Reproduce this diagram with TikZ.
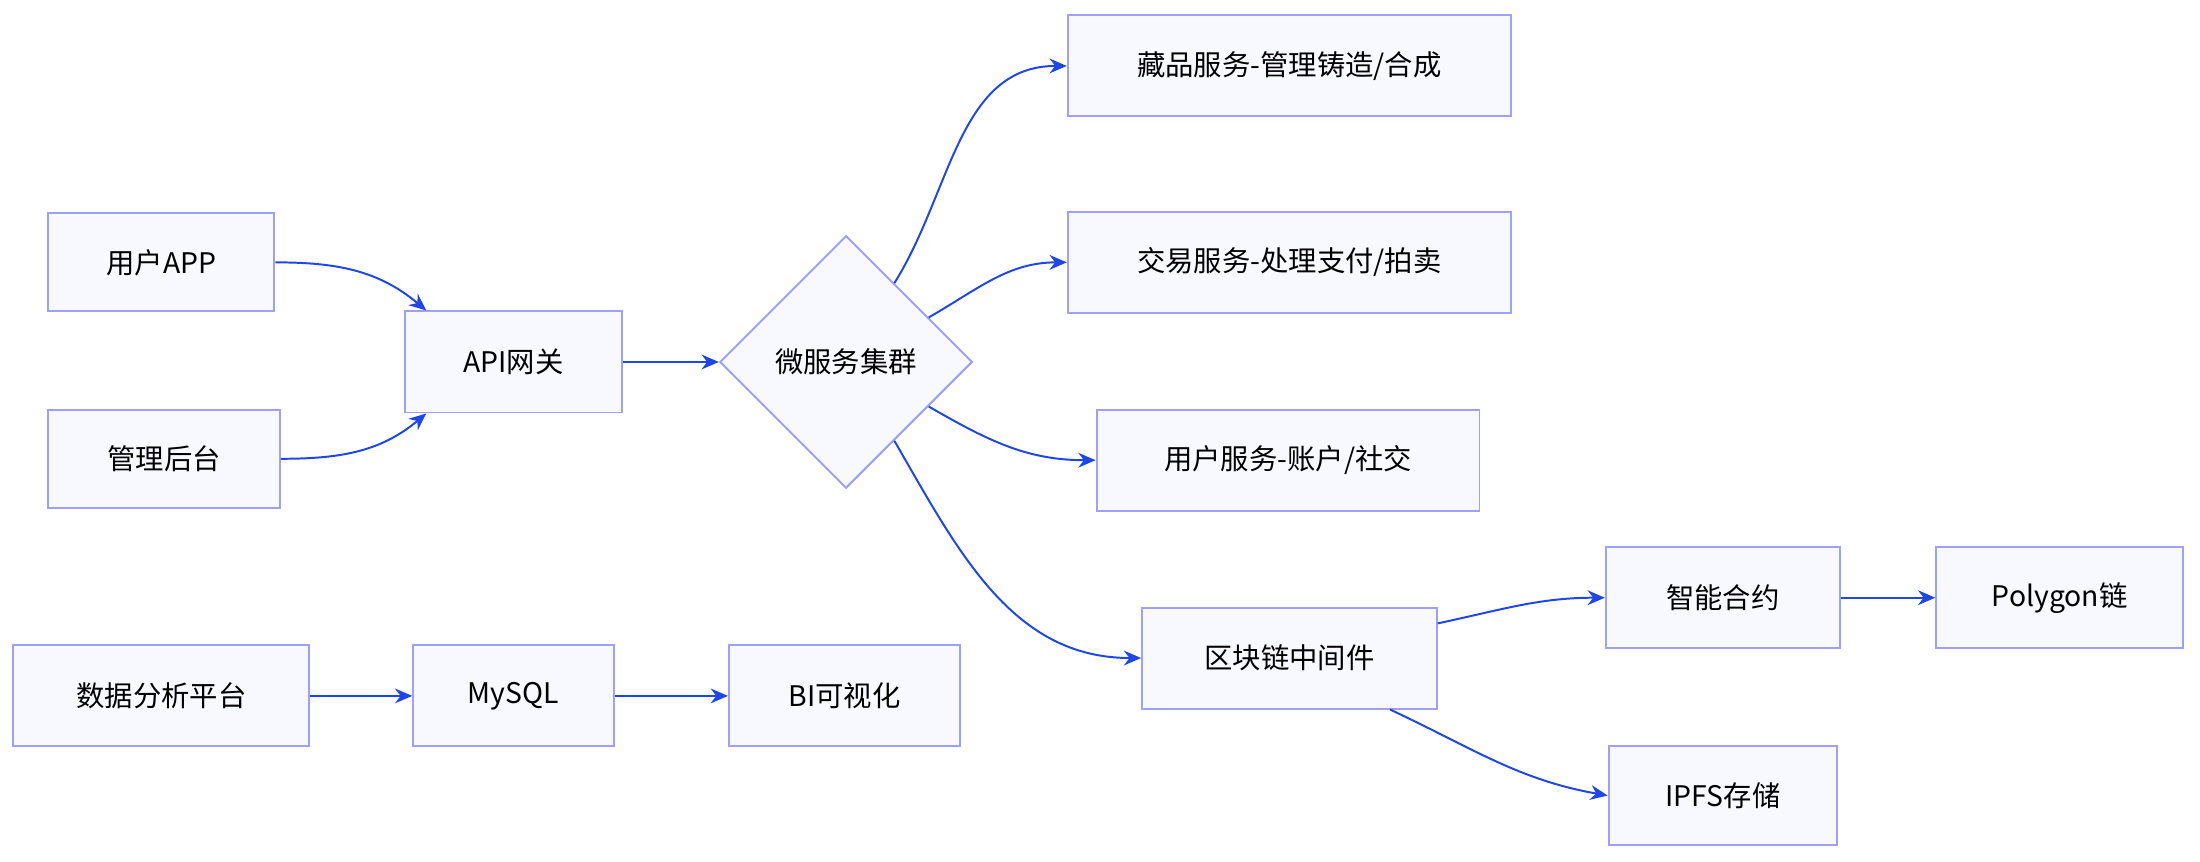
\documentclass[tikz,border=0pt]{standalone}
\usepackage{fontspec}
\setmainfont{Noto Sans CJK SC}
\usetikzlibrary{shapes.geometric,arrows.meta,calc}
\definecolor{boxline}{RGB}{160,160,250}
\definecolor{boxfill}{RGB}{248,248,255}
\definecolor{arrowblue}{RGB}{30,70,235}
\tikzset{
	box/.style={draw=boxline,fill=boxfill,thick,minimum height=1.44cm,inner sep=0pt,font=\fontsize{11.5}{14}\selectfont},
	link/.style={draw=arrowblue,thick,-{Stealth[length=7pt,width=6pt]}}
}
\begin{document}
\begin{tikzpicture}[x=0.02cm,y=-0.02cm]
	\useasboundingbox (0,0) rectangle (1568,614);
	% nodes
	\node[box,minimum width=3.22cm,minimum height=1.4cm] (app) at (115,187) {用户APP};
	\node[box,minimum width=3.3cm,minimum height=1.4cm] (admin) at (117,327) {管理后台};
	\node[box,minimum width=3.1cm] (gw) at (366,258) {API网关};
	\node[box,diamond,minimum width=3.6cm,minimum height=3.6cm] (svc) at (603,258) {微服务集群};
	\node[box,minimum width=6.32cm] (nft) at (919,47) {藏品服务-管理铸造/合成};
	\node[box,minimum width=6.32cm] (trade) at (919,187) {交易服务-处理支付/拍卖};
	\node[box,minimum width=5.46cm] (usersvc) at (918,328) {用户服务-账户/社交};
	\node[box,minimum width=4.2cm] (chain) at (919,469) {区块链中间件};
	\node[box,minimum width=3.34cm] (contract) at (1228,426) {智能合约};
	\node[box,minimum width=3.52cm] (polygon) at (1468,426) {Polygon链};
	\node[box,minimum width=3.26cm,minimum height=1.4cm] (ipfs) at (1228,567) {IPFS存储};
	\node[box,minimum width=4.22cm] (data) at (115,496) {数据分析平台};
	\node[box,minimum width=2.86cm] (mysql) at (366,496) {MySQL};
	\node[box,minimum width=3.3cm] (bi) at (602,496) {BI可视化};
	% connectors
	\draw[link] (app.east) to[out=0,in=140] ($(gw.north west)+(16,0)$);
	\draw[link] (admin.east) to[out=0,in=220] ($(gw.south west)+(16,0)$);
	\draw[link] (gw.east) -- (svc.west);
	\draw[link] ($(svc.north)!0.38!(svc.east)$) to[out=58,in=180] (nft.west);
	\draw[link] ($(svc.north)!0.65!(svc.east)$) to[out=30,in=180] (trade.west);
	\draw[link] ($(svc.south)!0.65!(svc.east)$) to[out=-30,in=180] (usersvc.west);
	\draw[link] ($(svc.south)!0.38!(svc.east)$) to[out=-60,in=180] (chain.west);
	\draw[link] ($(chain.north east)+(0,12)$) to[out=12,in=180] (contract.west);
	\draw[link] (contract.east) -- (polygon.west);
	\draw[link] ($(chain.south east)+(-34,0)$) to[out=-25,in=170] (ipfs.west);
	\draw[link] (data.east) -- (mysql.west);
	\draw[link] (mysql.east) -- (bi.west);
\end{tikzpicture}
\end{document}
